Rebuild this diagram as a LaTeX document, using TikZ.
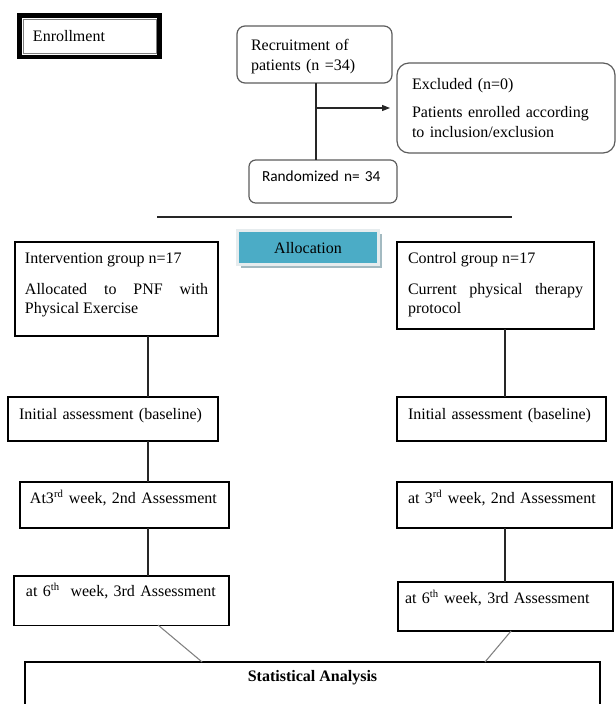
\documentclass[tikz,border=0pt]{standalone}
\usepackage{fontspec}
\setmainfont{Liberation Serif}
\newfontfamily\calib{Carlito}
\usetikzlibrary{arrows.meta,calc,shadows}
\definecolor{allocfill}{HTML}{4BACC6}
\definecolor{allocrim}{HTML}{E6ECEE}
\definecolor{allocshade}{HTML}{A3BAC1}
\definecolor{roundline}{HTML}{5C5C5C}
\begin{document}
\begin{tikzpicture}[x=0.75pt, y=-0.75pt,
  every node/.style={font=\fontsize{12pt}{14.5pt}\selectfont, inner ysep=0pt, outer sep=0pt, anchor=north west},
  sqbox/.style={draw=black, line width=0.8pt, align=left},
  rbox/.style={draw=roundline, line width=0.9pt, rounded corners=6pt, align=left},
  conn/.style={draw=black!85, line width=0.8pt},
  diag/.style={draw=black!50, line width=0.8pt}]
\useasboundingbox (0,0) rectangle (616,704);
\clip (0,0) rectangle (616,704);

\node[draw, line width=3.4pt, inner xsep=10.3pt, text width=84.75pt, text height=19.9pt, text depth=11.25pt] (enr) at (19.25,15.25) {Enrollment};
\path[draw, gray, line width=0.6pt] ([shift={(3.75,3.75)}]enr.north west) rectangle ([shift={(-3.75,-3.75)}]enr.south east);

\node[rbox, inner xsep=10.5pt, text width=95.25pt, text height=18pt, text depth=24.75pt] (recr) at (237,26) {Recruitment of\\[1pt]patients (n =34)};
\node[rbox, rounded corners=9pt, inner xsep=11.25pt, text width=141pt, text height=19.5pt, text depth=48pt] (excl) at (397,63) {Excluded (n=0)\\[7pt]Patients enrolled according\\to inclusion/exclusion};
\node[rbox, rounded corners=5pt, inner xsep=9.75pt, text width=91.5pt, text height=15.75pt, text depth=16.5pt, font=\calib\fontsize{11.5pt}{14pt}\selectfont] (rand) at (249,160) {Randomized n= 34};

\node[draw=allocrim, fill=allocfill, line width=2.25pt, inner xsep=0pt, minimum width=105.75pt, text height=17.6pt, text depth=7.9pt, drop shadow={shadow xshift=2.25pt, shadow yshift=-2.6pt, fill=allocshade, opacity=1}] (alloc) at (237.5,230.5) {Allocation};

\node[sqbox, align=justify, inner xsep=7.5pt, text width=137.25pt, text height=15.75pt, text depth=54.75pt] (intv) at (15,242) {Intervention group n=17\\[9pt]Allocated to PNF with\linebreak Physical Exercise};
\node[sqbox, align=justify, inner xsep=8.25pt, text width=131.25pt, text height=15.75pt, text depth=49.5pt] (ctrl) at (397,242) {Control group n=17\\[9pt]Current physical therapy\linebreak protocol};

\node[sqbox, inner xsep=8.25pt, text width=141pt, text height=16.5pt, text depth=16.5pt] (initl) at (8,397) {Initial assessment (baseline)};
\node[sqbox, inner xsep=8.25pt, text width=140.25pt, text height=16.5pt, text depth=16.5pt] (initr) at (397,397) {Initial assessment (baseline)};

\node[sqbox, inner xsep=7.5pt, text width=141.75pt, text height=15.75pt, text depth=18.75pt] (w3l) at (20,482) {At3\textsuperscript{rd} week, 2nd Assessment};
\node[sqbox, inner xsep=8.25pt, text width=144.75pt, text height=15.75pt, text depth=18.75pt] (w3r) at (397,482) {at 3\textsuperscript{rd} week, 2nd Assessment};

\node[sqbox, inner xsep=9pt, text width=143.25pt, text height=15.4pt, text depth=21.4pt] (w6l) at (14,576) {at 6\textsuperscript{th}\ \ week, 3rd Assessment};
\node[sqbox, inner xsep=5.25pt, text width=150.75pt, text height=15.75pt, text depth=21pt] (w6r) at (398,582) {at 6\textsuperscript{th} week, 3rd Assessment};

\node[sqbox, inner xsep=0pt, minimum width=431.25pt, text height=14.25pt, text depth=30.75pt, font=\fontsize{12pt}{14.5pt}\selectfont\bfseries] (stats) at (25,662) {Statistical Analysis};

\coordinate (mx) at (316,0);
\coordinate (lx) at (148,0);
\coordinate (rx) at (505,0);

\path[draw,conn] (recr.south -| mx) -- (rand.north -| mx);
\path[draw,conn,-{Triangle[length=6pt,width=4.5pt]}] (excl.west -| mx) -- ([xshift=-5.25pt]excl.west);
\path[draw,conn] (157,217) -- (512,217);

\path[draw,conn] (intv.south -| lx) -- (initl.north -| lx);
\path[draw,conn] (initl.south -| lx) -- (w3l.north -| lx);
\path[draw,conn] (w3l.south -| lx) -- (w6l.north -| lx);
\path[draw,conn] (ctrl.south -| rx) -- (initr.north -| rx);
\path[draw,conn] (w3r.south -| rx) -- (w6r.north -| rx);

\path[draw,diag] ($(w6l.south west)!0.67!(w6l.south east)$) -- ($(stats.north west)!0.308!(stats.north east)$);
\path[draw,diag] ($(w6r.south west)!0.526!(w6r.south east)$) -- ($(stats.north west)!0.80!(stats.north east)$);
\end{tikzpicture}
\end{document}
